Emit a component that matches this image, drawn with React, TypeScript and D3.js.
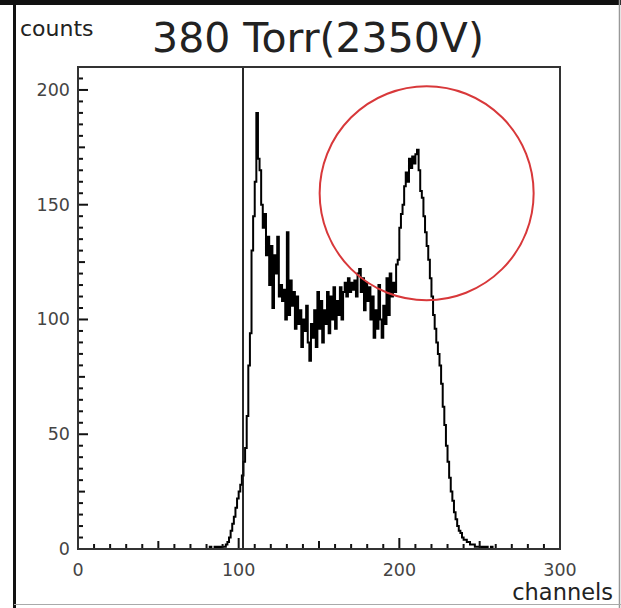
import React from 'react'
import * as d3 from 'd3'

// histogram counts, one bin per channel, starting at channelStart
const channelStart = 80
const counts = [
  0, 0, 1, 0, 0, 1, 0, 1, 0, 1,
  1, 1, 2, 3, 5, 8, 11, 14, 18, 22,
  25, 28, 32, 38, 44, 58, 80, 94, 130, 145,
  160, 190, 170, 165, 150, 140, 146, 128, 136, 115,
  132, 105, 128, 120, 136, 110, 115, 108, 113, 100,
  138, 102, 117, 106, 112, 96, 110, 98, 104, 88,
  100, 95, 106, 90, 82, 98, 92, 104, 88, 112,
  96, 108, 90, 104, 98, 112, 94, 110, 100, 114,
  96, 108, 102, 114, 100, 112, 116, 110, 118, 112,
  116, 113, 117, 110, 120, 122, 112, 118, 104, 116,
  108, 114, 100, 110, 92, 104, 96, 115, 100, 92,
  106, 98, 118, 102, 120, 110, 116, 112, 124, 126,
  140, 146, 150, 158, 164, 160, 170, 166, 171, 168,
  172, 174, 165, 156, 153, 145, 138, 132, 126, 118,
  110, 102, 96, 90, 85, 80, 72, 62, 54, 45,
  38, 31, 25, 21, 16, 13, 10, 8, 7, 5,
  4, 4, 3, 3, 2, 2, 2, 1, 1, 1,
  1, 0, 1, 0, 1, 0, 0, 1, 0, 0,
]

const xTicks = [0, 100, 200, 300]
const yTicks = [0, 50, 100, 150, 200]
const cutChannel = 102.7
// red marker around the second peak (channel, count)
const markerChannel = 217
const markerCount = 155

const W = 621
const H = 608
const margin = { left: 78, right: 61, top: 67, bottom: 59 }

const App = () => {
  const x = d3.scaleLinear().domain([0, 300]).range([margin.left, W - margin.right])
  const y = d3.scaleLinear().domain([0, 210]).range([H - margin.bottom, margin.top])

  const pts: [number, number][] = []
  counts.forEach((v, i) => {
    const c = channelStart + i
    pts.push([c, v])
    pts.push([c + 1, v])
  })
  const line = d3.line<[number, number]>()
    .x(d => x(d[0]))
    .y(d => y(d[1]))

  const yMinor = d3.range(0, 211, 5)
  const xMinor = d3.range(0, 301, 10)
  const font = '"DejaVu Sans", sans-serif'
  const x0 = x(0)
  const y0 = y(0)

  return (
    <svg width={W} height={H} style={{ position: 'absolute', left: 0, top: 0, background: '#fff' }}>
      {/* outer frame */}
      <rect x={0} y={0} width={W} height={5} fill="#111" />
      <line x1={14.5} x2={14.5} y1={0} y2={H} stroke="#111" strokeWidth={3} />
      <line x1={619.5} x2={619.5} y1={0} y2={H} stroke="#999" strokeWidth={1.5} />
      <line x1={14} x2={W} y1={604.5} y2={604.5} stroke="#aaa" strokeWidth={1} />

      <text x={20} y={36} fontFamily={font} fontSize={22} fill="#222">counts</text>
      <text x={318} y={52} fontFamily={font} fontSize={41} fill="#222" textAnchor="middle">380 Torr(2350V)</text>
      <text x={613} y={600} fontFamily={font} fontSize={22.5} fill="#222" textAnchor="end">channels</text>

      {/* histogram */}
      <path d={line(pts) || ''} fill="none" stroke="#000" strokeWidth={2} />

      {/* cut line */}
      <line x1={x(cutChannel)} x2={x(cutChannel)} y1={y(210)} y2={y0} stroke="#111" strokeWidth={1.8} />

      {/* marker */}
      <circle cx={x(markerChannel)} cy={y(markerCount)} r={107} fill="none" stroke="#d8383a" strokeWidth={2} />

      {/* y ticks */}
      {yMinor.map(v => {
        const len = v % 50 === 0 ? 10 : v % 25 === 0 ? 7 : 5
        return <line key={'yt' + v} x1={x0} x2={x0 + len} y1={y(v)} y2={y(v)} stroke="#111" strokeWidth={2} />
      })}
      {yTicks.map(v => (
        <text key={'yl' + v} x={70} y={y(v) + 6} fontFamily={font} fontSize={17.5} fill="#444" textAnchor="end">{v}</text>
      ))}

      {/* x ticks */}
      {xMinor.map(v => {
        const len = v % 100 === 0 ? 11 : v % 50 === 0 ? 8 : 5
        return <line key={'xt' + v} x1={x(v)} x2={x(v)} y1={y0} y2={y0 - len} stroke="#111" strokeWidth={2} />
      })}
      {xTicks.map(v => (
        <text key={'xl' + v} x={x(v)} y={576} fontFamily={font} fontSize={17.5} fill="#444" textAnchor="middle">{v}</text>
      ))}

      {/* plot frame */}
      <rect x={x0} y={y(210)} width={x(300) - x0} height={y0 - y(210)} fill="none" stroke="#333" strokeWidth={2} />
    </svg>
  )
}

export default App
